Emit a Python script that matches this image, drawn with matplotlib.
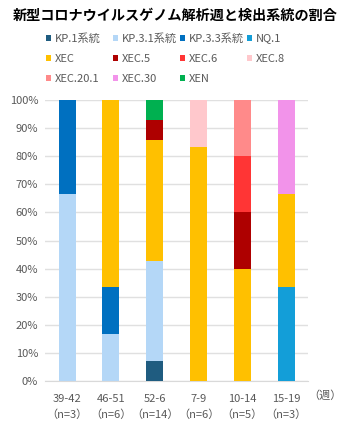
import numpy as np
import matplotlib.pyplot as plt
from matplotlib.patches import Patch

plt.rcParams['font.family'] = ['Noto Sans CJK JP', 'DejaVu Sans']

weeks = ['39-42', '46-51', '52-6', '7-9', '10-14', '15-19']
n_samples = [3, 6, 14, 6, 5, 3]

lineages = ['KP.1系統', 'KP.3.1系統', 'KP.3.3系統', 'NQ.1', 'XEC', 'XEC.5',
            'XEC.6', 'XEC.8', 'XEC.20.1', 'XEC.30', 'XEN']
colors = ['#1F5C80', '#B4D7F7', '#0070C0', '#139ED8', '#FFC000', '#AE0000',
          '#FF3535', '#FFC8CC', '#FF8A8A', '#F293EA', '#00B050']

# detected counts per lineage, one value per week group
counts = {
    'KP.1系統':   [0, 0, 1, 0, 0, 0],
    'KP.3.1系統': [2, 1, 5, 0, 0, 0],
    'KP.3.3系統': [1, 1, 0, 0, 0, 0],
    'NQ.1':       [0, 0, 0, 0, 0, 1],
    'XEC':        [0, 4, 6, 5, 2, 1],
    'XEC.5':      [0, 0, 1, 0, 1, 0],
    'XEC.6':      [0, 0, 0, 0, 1, 0],
    'XEC.8':      [0, 0, 0, 1, 0, 0],
    'XEC.20.1':   [0, 0, 0, 0, 1, 0],
    'XEC.30':     [0, 0, 0, 0, 0, 1],
    'XEN':        [0, 0, 1, 0, 0, 0],
}

fig = plt.figure(figsize=(3.5, 4.25), dpi=100)
ax = fig.add_axes([0.129, 0.1035, 0.751, 0.661])

x = np.arange(len(weeks))
totals = np.array(n_samples, dtype=float)
bottom = np.zeros(len(weeks))
for name, col in zip(lineages, colors):
    share = np.array(counts[name]) / totals * 100
    ax.bar(x, share, width=0.39, bottom=bottom, color=col, zorder=3)
    bottom += share

ax.set_xlim(-0.5, len(weeks) - 0.5)
ax.set_ylim(0, 100)
ax.set_yticks(np.arange(0, 101, 10))
ax.set_yticklabels([f'{v}%' for v in range(0, 101, 10)])
ax.set_xticks(x)
ax.set_xticklabels([f'{w}\n（n={n}）' for w, n in zip(weeks, n_samples)],
                   linespacing=1.65)
ax.tick_params(length=0, labelsize=8, colors='#595959', pad=9)
ax.tick_params(axis='y', pad=5)
ax.yaxis.grid(True, color='#E0E0E0', linewidth=1, zorder=0)
for s in ['top', 'right', 'left']:
    ax.spines[s].set_visible(False)
ax.spines['bottom'].set_color('#D9D9D9')
ax.text(1.0, -0.032, '（週）', transform=ax.transAxes, fontsize=8,
        color='#595959', ha='left', va='top')

fig.text(0.5, 0.962, '新型コロナウイルスゲノム解析週と検出系統の割合',
         ha='center', va='center', fontsize=10.2, fontweight='bold')

# legend laid out row by row in four fixed-width columns
handles = [Patch(facecolor=c, label=l) for l, c in zip(lineages, colors)]
col_x = [0.130, 0.322, 0.513, 0.705]
for j, cx in enumerate(col_x):
    idx = list(range(j, len(lineages), 4))
    fig.legend([handles[i] for i in idx], [lineages[i] for i in idx],
               loc='upper left', bbox_to_anchor=(cx, 0.921),
               frameon=False, fontsize=8, borderpad=0, borderaxespad=0,
               handlelength=0.45, handleheight=0.45, handletextpad=0.35,
               labelspacing=0.9, labelcolor='#595959')

fig.savefig('out.png', dpi=100)
